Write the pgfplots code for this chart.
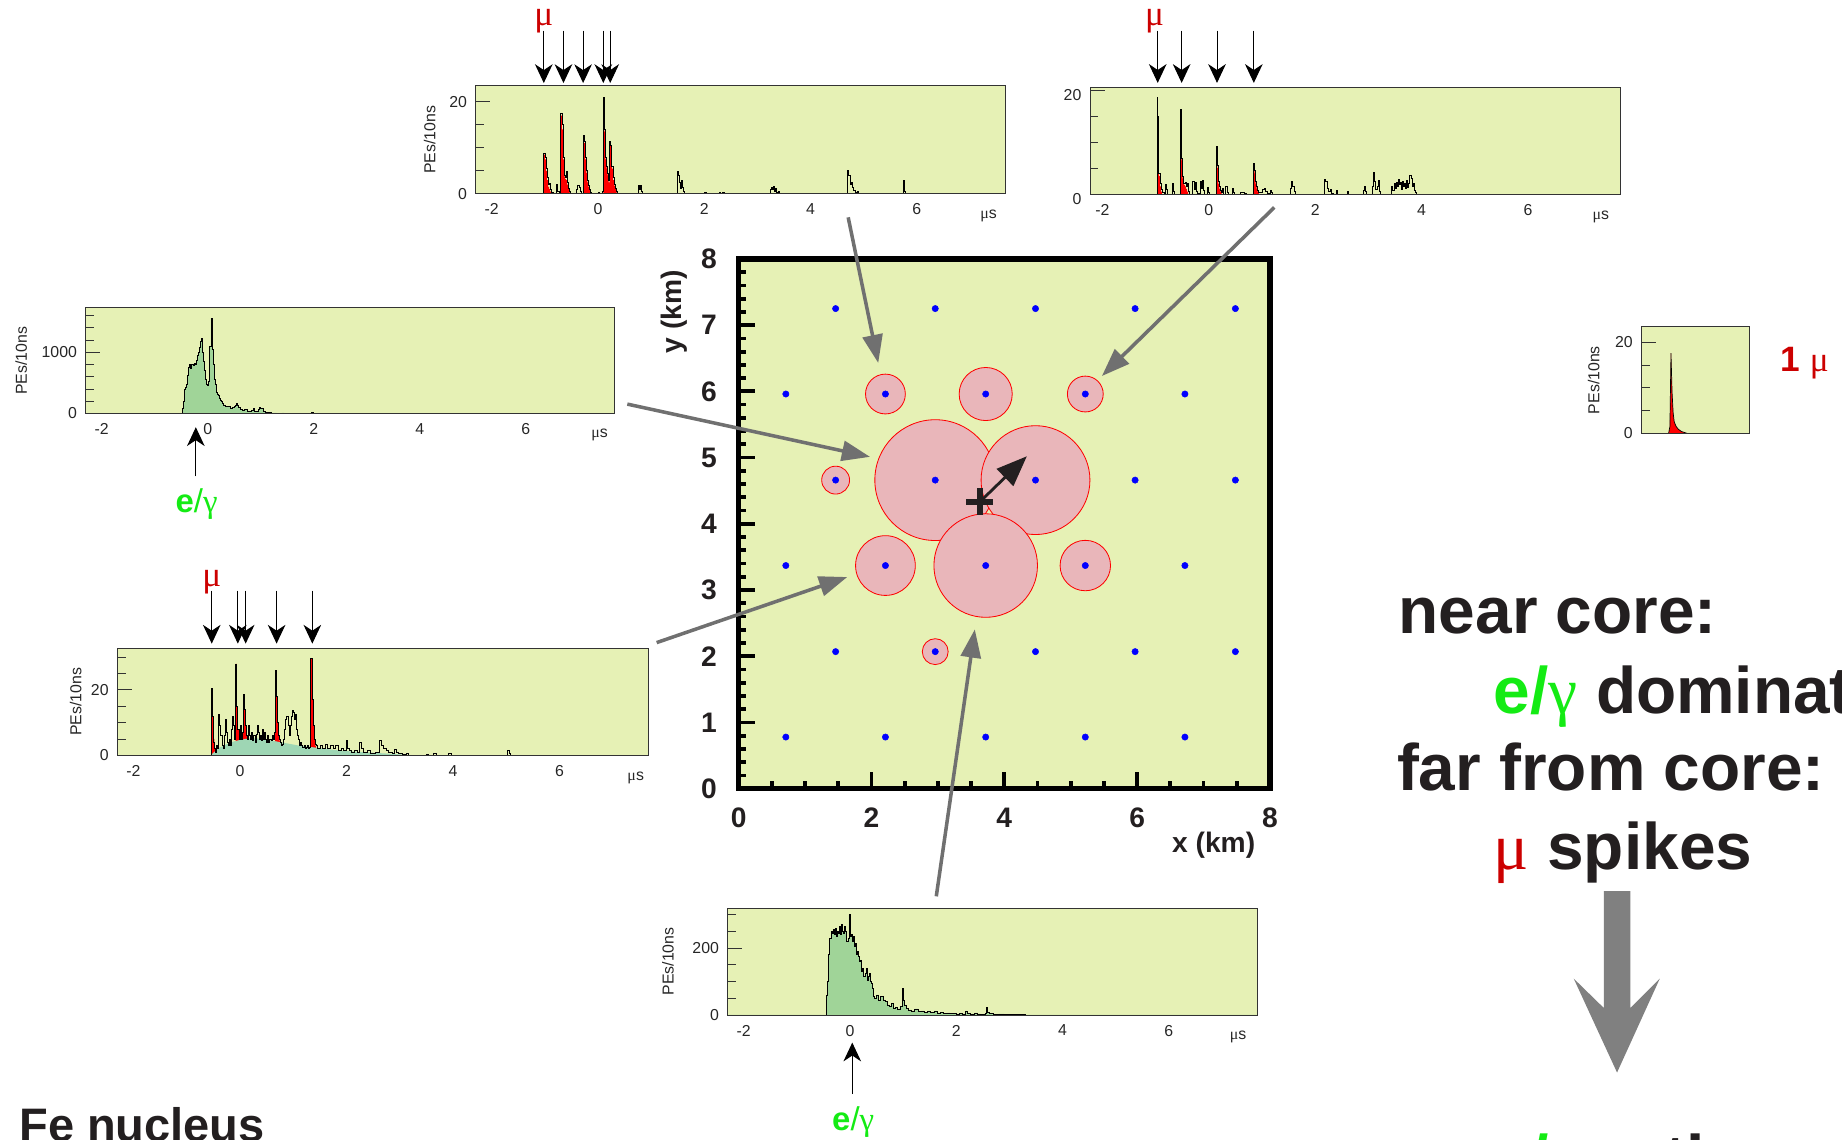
\documentclass[border=0pt]{standalone}
\usepackage{fontspec}
\setmainfont{Liberation Sans}
\newfontfamily\serif{Liberation Serif}
\usepackage{pgfplots}
\usepackage{pgfplotstable}
\pgfplotsset{compat=1.18}
\usetikzlibrary{arrows.meta}
\definecolor{bgyel}{RGB}{230,241,181}
\definecolor{circpink}{RGB}{233,182,186}
\definecolor{egreen}{RGB}{20,235,20}
\definecolor{mured}{RGB}{204,0,0}
\definecolor{fillgreen}{RGB}{160,212,152}
\definecolor{fillgreenE}{RGB}{158,214,180}
\definecolor{arrgray}{RGB}{112,112,112}
\definecolor{biggray}{RGB}{128,128,128}
\definecolor{txt}{RGB}{35,31,32}

\pgfplotsset{
 inset/.style={
   scale only axis, axis on top, clip=false,
   axis background/.style={fill=bgyel},
   axis line style={draw=black!80, line width=0.8pt},
   xmin=-2.3, xmax=7.67, ymin=0,
   xtick={-2,0,2,4,6}, xticklabels={-2,0,2,4,6},
   tick align=inside, tick pos=left,
   xtick style={draw=none},
   ytick style={draw=black!80, line width=0.7pt},
   major tick length=12.5pt, minor tick length=7pt,
   tick label style={font=\fontsize{13.5}{15}\selectfont, text=black!85},
   xticklabel shift=5pt, yticklabel shift=4pt,
   ylabel style={font=\fontsize{13.5}{15}\selectfont, text=black!85, anchor=center},
 },
}
\tikzset{
 muarrow/.style={black, line width=0.9pt, -{Stealth[length=16pt,width=15pt,inset=5pt]}},
 grayarrow/.style={draw=arrgray, line width=3pt, -{Triangle[length=24pt,width=17pt]}},
}

% ---------- data ----------
\pgfplotstableread[row sep=\\]{x y\\ -2.3 0\\ -1.04 0\\ -1.02 8.9\\ -1.0 8.0\\ -0.98 5.5\\ -0.96 3.5\\ -0.94 2.0\\ -0.92 2.2\\ -0.90 1.0\\ -0.88 0.3\\ -0.84 0\\ -0.78 2.0\\ -0.76 0.5\\ -0.72 0\\ -0.70 17.5\\ -0.68 15\\ -0.66 8\\ -0.64 4\\ -0.62 3.5\\ -0.60 4.8\\ -0.58 2.5\\ -0.56 1.2\\ -0.54 0.5\\ -0.52 0\\ -0.40 1.0\\ -0.38 1.8\\ -0.36 1.5\\ -0.34 0.6\\ -0.32 0\\ -0.28 12.8\\ -0.26 11.5\\ -0.24 8\\ -0.22 5\\ -0.20 3\\ -0.18 1.8\\ -0.16 1\\ -0.14 0.3\\ -0.12 0\\ 0.00 0.3\\ 0.02 0\\ 0.08 0.5\\ 0.10 21\\ 0.12 14\\ 0.14 8\\ 0.16 6\\ 0.18 4.5\\ 0.20 3\\ 0.22 11.5\\ 0.24 10.5\\ 0.26 6\\ 0.28 3.5\\ 0.30 2\\ 0.32 1.2\\ 0.34 0.5\\ 0.36 0\\ 0.75 1.8\\ 0.77 1.0\\ 0.79 1.8\\ 0.81 0.5\\ 0.83 0\\ 1.49 4.8\\ 1.51 4.0\\ 1.53 2.5\\ 1.55 1.2\\ 1.57 3.0\\ 1.59 1.5\\ 1.61 0.5\\ 1.63 0\\ 2.00 0.3\\ 2.04 0\\ 2.28 0.3\\ 2.30 0\\ 2.34 0.3\\ 2.38 0\\ 3.24 1.0\\ 3.26 1.5\\ 3.28 1.0\\ 3.30 1.6\\ 3.32 0.5\\ 3.34 1.2\\ 3.36 0.3\\ 3.40 0.5\\ 3.42 0\\ 4.70 5.0\\ 4.72 4.0\\ 4.74 2.0\\ 4.76 2.6\\ 4.78 1.5\\ 4.80 0.8\\ 4.84 0.3\\ 4.88 0.5\\ 4.90 0\\ 5.74 3.0\\ 5.76 0.5\\ 5.78 0\\ 7.66 0\\}\tabAtot
\pgfplotstableread[row sep=\\]{x y\\ -2.3 0\\ -1.04 0\\ -1.02 8.5\\ -1.0 7.5\\ -0.98 5\\ -0.96 3\\ -0.94 1.5\\ -0.92 1\\ -0.90 0.5\\ -0.88 0\\ -0.72 0\\ -0.70 17\\ -0.68 14\\ -0.66 7.5\\ -0.64 3.8\\ -0.62 3.2\\ -0.60 3\\ -0.58 2\\ -0.56 1\\ -0.54 0.3\\ -0.52 0\\ -0.28 12.3\\ -0.26 11\\ -0.24 7.5\\ -0.22 4.5\\ -0.20 2.5\\ -0.18 1.5\\ -0.16 0.8\\ -0.14 0\\ 0.10 20.5\\ 0.12 13.5\\ 0.14 7.5\\ 0.16 5.5\\ 0.18 4\\ 0.20 2.5\\ 0.22 11\\ 0.24 10\\ 0.26 5.5\\ 0.28 3\\ 0.30 1.8\\ 0.32 1\\ 0.34 0.3\\ 0.36 0\\ 7.66 0\\}\tabAmu

\pgfplotstableread[row sep=\\]{x y\\ -2.23 0\\ -0.98 0\\ -0.97 18.7\\ -0.96 15\\ -0.95 8\\ -0.94 4\\ -0.92 2\\ -0.90 1\\ -0.88 0.3\\ -0.84 0\\ -0.82 1.8\\ -0.80 1.0\\ -0.78 0\\ -0.68 2.0\\ -0.66 0.5\\ -0.64 0\\ -0.54 0.5\\ -0.53 16.4\\ -0.52 12\\ -0.51 7\\ -0.49 3.5\\ -0.47 2\\ -0.45 2.2\\ -0.43 1.5\\ -0.41 2\\ -0.39 0.5\\ -0.37 0\\ -0.30 2.5\\ -0.28 1.0\\ -0.26 2.3\\ -0.24 0.5\\ -0.22 0.2\\ -0.16 2.5\\ -0.14 1.2\\ -0.12 2.6\\ -0.10 0.8\\ -0.08 0\\ -0.02 1.3\\ 0.00 0.3\\ 0.02 0\\ 0.14 9.3\\ 0.16 5.5\\ 0.18 2.5\\ 0.20 1.5\\ 0.22 0.8\\ 0.24 0.3\\ 0.26 1.2\\ 0.28 0\\ 0.32 1.5\\ 0.34 0.4\\ 0.36 0\\ 0.44 1.2\\ 0.46 0.3\\ 0.48 0\\ 0.60 0.3\\ 0.66 0.2\\ 0.70 0\\ 0.84 5.9\\ 0.86 4.5\\ 0.88 2.5\\ 0.90 1.5\\ 0.92 0.8\\ 0.94 0.3\\ 1.00 1.0\\ 1.04 1.2\\ 1.06 0.5\\ 1.10 0.2\\ 1.16 0.8\\ 1.18 0.3\\ 1.20 0\\ 1.54 1.2\\ 1.56 2.5\\ 1.58 1.5\\ 1.60 0.5\\ 1.62 0\\ 2.18 2.8\\ 2.20 2.4\\ 2.22 1.2\\ 2.24 0.5\\ 2.28 1.0\\ 2.30 0.2\\ 2.34 0\\ 2.40 0.7\\ 2.42 0\\ 2.60 0.5\\ 2.62 0\\ 2.90 0.7\\ 2.92 1.5\\ 2.94 0.5\\ 2.96 0\\ 3.08 1.5\\ 3.10 4.2\\ 3.12 2.5\\ 3.14 1.0\\ 3.16 1.5\\ 3.18 2.6\\ 3.20 0.5\\ 3.22 0\\ 3.44 1.5\\ 3.46 0.8\\ 3.48 2.0\\ 3.50 1.2\\ 3.52 2.2\\ 3.54 1.5\\ 3.56 2.8\\ 3.58 1.8\\ 3.60 2.2\\ 3.62 1.0\\ 3.64 2.5\\ 3.66 1.5\\ 3.68 2.0\\ 3.70 1.2\\ 3.72 2.6\\ 3.74 1.3\\ 3.76 2.0\\ 3.78 3.6\\ 3.80 3.0\\ 3.82 1.5\\ 3.84 2.0\\ 3.86 0.8\\ 3.88 0.3\\ 3.90 0\\ 7.74 0\\}\tabBtot
\pgfplotstableread[row sep=\\]{x y\\ -2.23 0\\ -0.98 0\\ -0.97 18\\ -0.96 14\\ -0.95 7.5\\ -0.94 3.5\\ -0.92 1.5\\ -0.90 0.5\\ -0.88 0\\ -0.54 0.3\\ -0.53 16\\ -0.52 11.5\\ -0.51 6.5\\ -0.49 3\\ -0.47 1.8\\ -0.45 1.5\\ -0.43 1\\ -0.41 0.5\\ -0.39 0\\ 0.14 9\\ 0.16 5\\ 0.18 2\\ 0.20 1\\ 0.22 0.5\\ 0.24 0\\ 0.84 5.5\\ 0.86 4\\ 0.88 2\\ 0.90 1\\ 0.92 0.5\\ 0.94 0\\ 7.74 0\\}\tabBmu

\pgfplotstableread[row sep=\\]{x y\\ 0 0\\ 0.25 0\\ 0.262 1.5\\ 0.272 17.6\\ 0.282 9\\ 0.292 4.5\\ 0.302 2.5\\ 0.32 1.5\\ 0.34 0.9\\ 0.37 0.4\\ 0.42 0\\ 1 0\\}\tabC

\pgfplotstableread[row sep=\\]{x y\\ -2.3 0\\ -0.50 0\\ -0.48 80\\ -0.46 200\\ -0.44 390\\ -0.42 430\\ -0.40 480\\ -0.38 620\\ -0.36 760\\ -0.34 800\\ -0.32 740\\ -0.30 800\\ -0.28 780\\ -0.26 820\\ -0.24 800\\ -0.22 870\\ -0.20 950\\ -0.18 1000\\ -0.16 1080\\ -0.14 1180\\ -0.12 1230\\ -0.10 1000\\ -0.08 850\\ -0.06 700\\ -0.04 560\\ -0.02 480\\ 0.00 460\\ 0.02 520\\ 0.04 1100\\ 0.06 1560\\ 0.08 1050\\ 0.10 800\\ 0.12 560\\ 0.14 480\\ 0.16 340\\ 0.18 320\\ 0.20 290\\ 0.22 240\\ 0.24 220\\ 0.26 200\\ 0.28 160\\ 0.30 140\\ 0.34 120\\ 0.38 110\\ 0.42 90\\ 0.46 100\\ 0.50 110\\ 0.52 130\\ 0.54 170\\ 0.56 140\\ 0.58 100\\ 0.62 70\\ 0.66 50\\ 0.70 60\\ 0.74 40\\ 0.78 30\\ 0.82 50\\ 0.86 80\\ 0.88 40\\ 0.92 30\\ 0.96 60\\ 0.98 100\\ 1.00 90\\ 1.04 40\\ 1.08 20\\ 1.14 15\\ 1.20 10\\ 1.30 5\\ 1.40 10\\ 1.44 0\\ 1.96 12\\ 2.00 0\\ 2.18 5\\ 2.22 0\\ 7.67 0\\}\tabD

\pgfplotstableread[row sep=\\]{x y\\ -2.3 0\\ -0.56 0\\ -0.54 20.3\\ -0.52 12\\ -0.50 4\\ -0.48 2\\ -0.46 1\\ -0.44 3\\ -0.42 2\\ -0.40 12.5\\ -0.38 9\\ -0.36 6\\ -0.34 3\\ -0.32 2\\ -0.30 6\\ -0.28 11\\ -0.26 7\\ -0.24 4\\ -0.22 3\\ -0.20 5\\ -0.18 3\\ -0.16 8\\ -0.14 12\\ -0.12 9\\ -0.10 5\\ -0.08 27.9\\ -0.06 15\\ -0.04 8\\ -0.02 5\\ 0.00 9\\ 0.02 5\\ 0.04 7\\ 0.06 18.6\\ 0.08 14\\ 0.10 9\\ 0.12 6\\ 0.14 5\\ 0.16 9\\ 0.18 6\\ 0.20 5\\ 0.22 7\\ 0.24 4.5\\ 0.26 6\\ 0.28 4\\ 0.30 6.5\\ 0.32 9\\ 0.34 7\\ 0.36 5\\ 0.38 6\\ 0.40 4.5\\ 0.42 8\\ 0.44 5\\ 0.46 7\\ 0.48 5\\ 0.50 4\\ 0.52 6\\ 0.54 4\\ 0.56 5\\ 0.58 4.5\\ 0.60 6\\ 0.62 5\\ 0.64 7\\ 0.66 25.9\\ 0.68 18\\ 0.70 10\\ 0.72 6\\ 0.74 5\\ 0.76 4\\ 0.78 3\\ 0.80 3.5\\ 0.82 5\\ 0.84 8\\ 0.86 11\\ 0.88 12\\ 0.90 9\\ 0.92 6\\ 0.94 9\\ 0.96 12\\ 0.98 13.6\\ 1.00 13\\ 1.02 11\\ 1.04 12.5\\ 1.06 8\\ 1.08 6\\ 1.10 5\\ 1.12 3\\ 1.14 4\\ 1.16 3\\ 1.18 2.5\\ 1.20 3\\ 1.22 2\\ 1.24 2.5\\ 1.26 3\\ 1.28 2\\ 1.30 2.5\\ 1.32 3\\ 1.33 29.6\\ 1.35 17\\ 1.37 9\\ 1.39 5\\ 1.41 3.5\\ 1.43 3\\ 1.45 2\\ 1.50 3\\ 1.55 2\\ 1.60 3.5\\ 1.65 2\\ 1.70 3\\ 1.75 2\\ 1.80 3\\ 1.85 1.5\\ 1.90 2\\ 1.95 1.5\\ 2.00 4.5\\ 2.02 2\\ 2.06 1.5\\ 2.10 1\\ 2.15 1.5\\ 2.20 1\\ 2.25 4\\ 2.28 2\\ 2.32 1\\ 2.40 1.5\\ 2.45 0.5\\ 2.55 1\\ 2.62 4.5\\ 2.66 3\\ 2.70 2\\ 2.74 1.5\\ 2.78 1\\ 2.82 1\\ 2.86 0.5\\ 2.90 1.8\\ 2.94 1\\ 2.98 0.5\\ 3.05 0.3\\ 3.12 0.5\\ 3.16 0\\ 3.50 0.3\\ 3.54 0\\ 3.64 0.5\\ 3.68 0\\ 3.92 0.5\\ 3.96 0\\ 5.02 1.5\\ 5.05 0.5\\ 5.08 0\\ 7.67 0\\}\tabEtot
\pgfplotstableread[row sep=\\]{x y\\ -2.3 0\\ -0.56 0\\ -0.54 20.3\\ -0.52 12\\ -0.50 5\\ -0.48 2\\ -0.46 0\\ -0.08 27.9\\ -0.06 15\\ -0.04 8\\ -0.02 4\\ 0.00 0\\ 0.06 18.6\\ 0.08 14\\ 0.10 9\\ 0.12 6\\ 0.14 4.5\\ 0.16 0\\ 0.66 25.9\\ 0.68 18\\ 0.70 10\\ 0.72 6\\ 0.74 4.5\\ 0.76 0\\ 1.33 29.6\\ 1.35 17\\ 1.37 9\\ 1.39 5\\ 1.41 3\\ 1.43 0\\ 7.67 0\\}\tabEmu
\pgfplotstableread[row sep=\\]{x y\\ -2.3 0\\ -0.55 0\\ -0.50 0.8\\ -0.45 1.5\\ -0.40 2.2\\ -0.30 3.0\\ -0.20 3.8\\ -0.10 4.3\\ 0.0 4.7\\ 0.1 5.0\\ 0.2 5.2\\ 0.3 5.2\\ 0.4 5.0\\ 0.5 4.8\\ 0.6 4.5\\ 0.7 4.2\\ 0.8 3.9\\ 0.9 3.6\\ 1.0 3.3\\ 1.1 3.0\\ 1.2 2.8\\ 1.3 2.6\\ 1.4 2.4\\ 1.5 2.2\\ 1.6 2.0\\ 1.7 1.8\\ 1.8 1.6\\ 1.9 1.4\\ 2.0 1.3\\ 2.2 1.1\\ 2.4 0.9\\ 2.6 0.7\\ 2.8 0.5\\ 3.0 0.3\\ 3.2 0\\ 7.67 0\\}\tabEem

\pgfplotstableread[row sep=\\]{x y\\ -2.3 0\\ -0.46 0\\ -0.44 60\\ -0.42 100\\ -0.40 180\\ -0.38 230\\ -0.36 250\\ -0.34 245\\ -0.32 255\\ -0.30 240\\ -0.28 260\\ -0.26 235\\ -0.24 250\\ -0.22 245\\ -0.20 265\\ -0.18 240\\ -0.16 270\\ -0.14 250\\ -0.12 245\\ -0.10 265\\ -0.08 250\\ -0.06 220\\ -0.04 230\\ -0.02 300\\ 0.00 235\\ 0.02 240\\ 0.04 220\\ 0.06 235\\ 0.08 205\\ 0.10 215\\ 0.12 180\\ 0.14 190\\ 0.16 175\\ 0.18 160\\ 0.20 165\\ 0.22 130\\ 0.24 140\\ 0.26 115\\ 0.28 125\\ 0.30 140\\ 0.32 105\\ 0.34 115\\ 0.36 125\\ 0.38 100\\ 0.40 95\\ 0.42 80\\ 0.44 55\\ 0.46 50\\ 0.50 60\\ 0.54 45\\ 0.58 55\\ 0.62 45\\ 0.66 40\\ 0.70 30\\ 0.74 25\\ 0.78 35\\ 0.82 20\\ 0.86 22\\ 0.90 18\\ 0.94 25\\ 0.98 80\\ 1.00 45\\ 1.02 30\\ 1.06 20\\ 1.10 15\\ 1.16 12\\ 1.22 18\\ 1.28 10\\ 1.34 12\\ 1.40 8\\ 1.46 12\\ 1.52 7\\ 1.58 12\\ 1.64 6\\ 1.70 8\\ 1.76 5\\ 1.82 6\\ 1.88 4\\ 1.94 5\\ 2.00 3\\ 2.06 4\\ 2.12 3\\ 2.18 12\\ 2.20 5\\ 2.26 3\\ 2.34 6\\ 2.40 3\\ 2.46 2\\ 2.54 5\\ 2.56 22\\ 2.58 8\\ 2.62 4\\ 2.70 2\\ 2.80 3\\ 2.90 1\\ 2.98 2\\ 3.06 1\\ 3.20 2\\ 3.30 0\\ 7.67 0\\}\tabF

\pgfplotstableread[row sep=\\]{x y\\ 1.46 7.25\\ 2.96 7.25\\ 4.47 7.25\\ 5.97 7.25\\ 7.48 7.25\\ 0.71 5.96\\ 2.21 5.96\\ 3.72 5.96\\ 5.22 5.96\\ 6.72 5.96\\ 1.46 4.66\\ 2.96 4.66\\ 4.47 4.66\\ 5.97 4.66\\ 7.48 4.66\\ 0.71 3.37\\ 2.21 3.37\\ 3.72 3.37\\ 5.22 3.37\\ 6.72 3.37\\ 1.46 2.07\\ 2.96 2.07\\ 4.47 2.07\\ 5.97 2.07\\ 7.48 2.07\\ 0.71 0.78\\ 2.21 0.78\\ 3.72 0.78\\ 5.22 0.78\\ 6.72 0.78\\}\tabStations
\pgfplotstableread[row sep=\\]{x y r\\ 2.96 4.66 0.91\\ 4.47 4.66 0.82\\ 3.72 3.37 0.78\\ 2.21 5.96 0.30\\ 3.72 5.96 0.40\\ 5.22 5.96 0.27\\ 1.46 4.66 0.21\\ 2.21 3.37 0.45\\ 5.22 3.37 0.38\\ 2.96 2.07 0.195\\}\tabSignals

\begin{document}
\begin{tikzpicture}[x=1pt,y=1pt]
\useasboundingbox (0,0) rectangle (1568,970);
\clip (0,0) rectangle (1568,970);

% ---------------- main map ----------------
\begin{axis}[
  at={(628.8pt,298.6pt)}, anchor=south west,
  scale only axis, width=452.2pt, height=451pt,
  xmin=0, xmax=8, ymin=0, ymax=8,
  axis on top, clip=false,
  axis background/.style={fill=bgyel},
  axis line style={line width=4.5pt, black},
  tick align=inside, tick pos=left,
  xtick={0,2,4,6,8}, xticklabels={0,2,4,6,8},
  ytick={0,1,2,3,4,5,6,7,8}, yticklabels={0,1,2,3,4,5,6,7,8},
  minor x tick num=3, minor y tick num=4,
  major tick length=14pt, minor tick length=6.5pt,
  tick style={line width=3.2pt, black},
  tick label style={font=\fontsize{24}{28}\selectfont\bfseries, text=txt},
  xticklabel shift=13pt, yticklabel shift=15pt,
]
\addplot[scatter, only marks, mark=*, point meta=y,
  scatter/use mapped color={draw=red, fill=circpink},
  mark options={line width=0.7pt},
  visualization depends on={56.5*\thisrow{r} \as \rsize},
  scatter/@pre marker code/.append style={/tikz/mark size=\rsize}]
  table[x=x, y=y] {\tabSignals};
\addplot[only marks, mark=*, mark size=2.7pt, color=blue] table[x=x, y=y] {\tabStations};
\addplot[only marks, mark=+, mark size=11.5pt, mark options={line width=5pt, draw=txt}] coordinates {(3.63,4.33)};
\end{axis}
% shower direction arrow (from core, in the map's frame: 1 km = 56.5pt)
\draw[draw=txt, line width=2.4pt, -{Triangle[length=26pt,width=20pt]}] (834,542.7) -- (874.1,581.6);
\node[font=\fontsize{24}{28}\selectfont\bfseries, text=txt, anchor=base east] at (1072,244) {x (km)};
\node[font=\fontsize{24}{28}\selectfont\bfseries, text=txt, rotate=90] at (574,704.5) {y (km)};

% ---------------- inset A (top middle) ----------------
\begin{axis}[inset, at={(405pt,805pt)}, anchor=south west, width=451pt, height=92pt, ymax=23.5,
  ytick={0,20}, yticklabels={0,20}, minor ytick={5,10,15},
  ylabel={PEs/10ns}, ylabel style={at={(rel axis cs:-0.087,0.5)}}]
\addplot[const plot, mark=none, fill=red, draw=none] table {\tabAmu} \closedcycle;
\addplot[const plot, mark=none, black, line width=0.6pt] table {\tabAtot};
\draw[muarrow] (axis cs:-1.02,35.5) -- (axis cs:-1.02,24.09);
\draw[muarrow] (axis cs:-0.65,35.5) -- (axis cs:-0.65,24.09);
\draw[muarrow] (axis cs:-0.28,35.5) -- (axis cs:-0.28,24.09);
\draw[muarrow] (axis cs:0.10,35.5) -- (axis cs:0.10,24.09);
\draw[muarrow] (axis cs:0.23,35.5) -- (axis cs:0.23,24.09);
\node[anchor=base, text=mured, font=\serif\fontsize{30}{32}\selectfont] at (axis cs:-1.02,36.5) {μ};
\node[font=\fontsize{13.5}{15}\selectfont, text=black!85, yshift=-19pt] at (rel axis cs:0.968,0) {{\serif μ}s};
\end{axis}

% ---------------- inset B (top right) ----------------
\begin{axis}[inset, at={(928pt,804.7pt)}, anchor=south west, width=451.4pt, height=91pt,
  xmin=-2.23, xmax=7.74, ymax=20.6,
  ytick={0,20}, yticklabels={0,20}, minor ytick={5,10,15},
  yticklabel style={yshift=-4pt}]
\addplot[const plot, mark=none, fill=red, draw=none] table {\tabBmu} \closedcycle;
\addplot[const plot, mark=none, black, line width=0.6pt] table {\tabBtot};
\draw[muarrow] (axis cs:-0.96,31.54) -- (axis cs:-0.96,21.44);
\draw[muarrow] (axis cs:-0.51,31.54) -- (axis cs:-0.51,21.44);
\draw[muarrow] (axis cs:0.155,31.54) -- (axis cs:0.155,21.44);
\draw[muarrow] (axis cs:0.847,31.54) -- (axis cs:0.847,21.44);
\node[anchor=base, text=mured, font=\serif\fontsize{30}{32}\selectfont] at (axis cs:-1.02,32.5) {μ};
\node[font=\fontsize{13.5}{15}\selectfont, text=black!85, yshift=-19pt] at (rel axis cs:0.963,0) {{\serif μ}s};
\end{axis}

% ---------------- inset C (single muon) ----------------
\begin{axis}[inset, at={(1397.3pt,601.1pt)}, anchor=south west, width=92.3pt, height=90.7pt,
  xmin=0, xmax=1, ymax=23.4, xtick=\empty,
  ytick={0,20}, yticklabels={0,20}, minor ytick={5,10,15},
  ylabel={PEs/10ns}, ylabel style={at={(rel axis cs:-0.44,0.5)}}]
\addplot[mark=none, fill=red, draw=none] table {\tabC} \closedcycle;
\addplot[mark=none, black, line width=0.6pt] table {\tabC};
\end{axis}
\node[anchor=base west, text=mured, font=\fontsize{30}{32}\selectfont] at (1512,654) {\textbf{1} {\serif μ}};

% ---------------- inset D (left, e/gamma) ----------------
\begin{axis}[inset, at={(73pt,618pt)}, anchor=south west, width=450pt, height=90pt, ymax=1727,
  ytick={0,1000}, yticklabels={0,1000}, minor ytick={200,400,600,800,1200,1400,1600},
  ylabel={PEs/10ns}, ylabel style={at={(rel axis cs:-0.122,0.5)}}]
\addplot[const plot, mark=none, fill=fillgreen, draw=none] table {\tabD} \closedcycle;
\addplot[const plot, mark=none, black, line width=0.6pt] table {\tabD};
\draw[muarrow] (axis cs:-0.224,-1027) -- (axis cs:-0.224,-224);
\node[anchor=base, text=egreen, font=\fontsize{28}{30}\selectfont] at (axis cs:-0.21,-1620) {\textbf{e}/{\serif γ}};
\node[font=\fontsize{13.5}{15}\selectfont, text=black!85, yshift=-18pt] at (rel axis cs:0.972,0) {{\serif μ}s};
\end{axis}

% ---------------- inset E (left, mixed) ----------------
\begin{axis}[inset, at={(100pt,327pt)}, anchor=south west, width=452pt, height=91pt, ymax=32.6,
  ytick={0,20}, yticklabels={0,20}, minor ytick={5,10,15,25,30},
  ylabel={PEs/10ns}, ylabel style={at={(rel axis cs:-0.0785,0.5)}}]
\addplot[const plot, mark=none, fill=red, draw=none] table {\tabEmu} \closedcycle;
\addplot[mark=none, fill=fillgreenE, draw=none] table {\tabEem} \closedcycle;
\addplot[const plot, mark=none, black, line width=0.6pt] table {\tabEtot};
\draw[muarrow] (axis cs:-0.53,50.2) -- (axis cs:-0.53,34.07);
\draw[muarrow] (axis cs:-0.04,50.2) -- (axis cs:-0.04,34.07);
\draw[muarrow] (axis cs:0.107,50.2) -- (axis cs:0.107,34.07);
\draw[muarrow] (axis cs:0.688,50.2) -- (axis cs:0.688,34.07);
\draw[muarrow] (axis cs:1.359,50.2) -- (axis cs:1.359,34.07);
\node[anchor=base, text=mured, font=\serif\fontsize{30}{32}\selectfont] at (axis cs:-0.53,51.4) {μ};
\node[font=\fontsize{13.5}{15}\selectfont, text=black!85, yshift=-19.5pt] at (rel axis cs:0.976,0) {{\serif μ}s};
\end{axis}

% ---------------- inset F (bottom, e/gamma) ----------------
\begin{axis}[inset, at={(619.5pt,106pt)}, anchor=south west, width=451pt, height=91pt, ymax=320,
  ytick={0,200}, yticklabels={0,200}, minor ytick={50,100,150,250,300},
  ylabel={PEs/10ns}, ylabel style={at={(rel axis cs:-0.113,0.5)}}]
\addplot[const plot, mark=none, fill=fillgreen, draw=none] table {\tabF} \closedcycle;
\addplot[const plot, mark=none, black, line width=0.6pt] table {\tabF};
\draw[muarrow] (axis cs:0.043,-236.7) -- (axis cs:0.043,-82.6);
\node[anchor=base, text=egreen, font=\fontsize{28}{30}\selectfont] at (axis cs:0.061,-345) {\textbf{e}/{\serif γ}};
\node[font=\fontsize{13.5}{15}\selectfont, text=black!85, yshift=-18.5pt] at (rel axis cs:0.963,0) {{\serif μ}s};
\end{axis}

% ---------------- pointer arrows ----------------
\draw[grayarrow] (722,785) -- (747.6,661);
\draw[grayarrow] (1084.7,793.4) -- (938,649.9);
\draw[grayarrow] (534,626) -- (740.6,581.1);
\draw[grayarrow] (559,423) -- (721.2,478.8);
\draw[grayarrow] (797,207) -- (829.8,434.2);

% ---------------- text block ----------------
\begin{scope}[every node/.style={anchor=base west, inner sep=0pt, font=\fontsize{56}{60}\selectfont\bfseries, text=txt}]
\node at (1190.5,430.5) {near core:};
\node at (1271.4,363) {\textcolor{egreen}{e/{\mdseries\serif γ}} dominate};
\node at (1189,297.1) {far from core:};
\node at (1271.4,229.7) {\textcolor{mured}{\mdseries\serif μ} spikes};
\node at (1271.4,-36) {\textcolor{egreen}{e/}\textcolor{mured}{\mdseries\serif μ} ratio};
\node[font=\fontsize{40}{44}\selectfont\bfseries] at (16.3,-2) {Fe nucleus};
\end{scope}
\fill[biggray] (1365.2,211.4) -- (1365.2,112) -- (1339.6,137) -- (1376.5,57) -- (1412.9,137) -- (1387.9,112) -- (1387.9,211.4) -- cycle;
\end{tikzpicture}
\end{document}
